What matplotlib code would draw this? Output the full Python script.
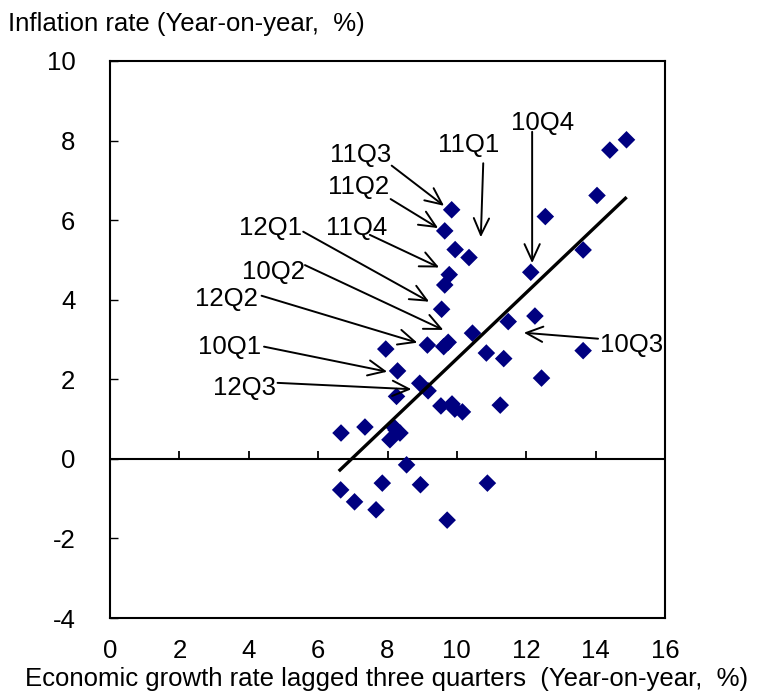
import matplotlib
matplotlib.use("Agg")
import matplotlib.pyplot as plt
import numpy as np

plt.rcParams['font.family'] = ['Liberation Sans', 'DejaVu Sans']
plt.rcParams['axes.unicode_minus'] = False

# Data: (growth lagged three quarters, inflation)
growth = [14.89, 14.41, 14.04, 12.55, 9.85, 9.65, 9.95, 10.35, 13.64, 12.13,
          9.78, 9.65, 9.56, 11.48, 12.25, 10.45, 9.15, 9.62, 9.75, 7.95,
          10.85, 11.35, 13.64, 8.29, 12.44, 8.93, 9.17, 8.26, 9.54, 9.86,
          9.94, 10.16, 11.25, 6.66, 7.35, 8.17, 8.36, 8.07, 8.25, 8.55,
          6.65, 7.85, 8.95, 10.88, 7.05, 7.67, 9.72]
inflation = [8.02, 7.76, 6.62, 6.09, 6.26, 5.73, 5.26, 5.06, 5.25, 4.69,
             4.63, 4.37, 3.76, 3.45, 3.59, 3.16, 2.86, 2.82, 2.93, 2.76,
             2.66, 2.52, 2.72, 2.21, 2.03, 1.90, 1.71, 1.57, 1.33, 1.38,
             1.25, 1.18, 1.35, 0.65, 0.80, 0.81, 0.65, 0.48, 0.72, -0.15,
             -0.78, -0.61, -0.65, -0.61, -1.08, -1.28, -1.54]

# Trend line end points
trend_x = [6.63, 14.86]
trend_y = [-0.28, 6.55]

# Annotations: label, text position, arrow start, arrow tip
labels = ['11Q3', '11Q2', '11Q1', '10Q4', '11Q4', '12Q1', '10Q2', '12Q2', '10Q1', '12Q3', '10Q3']
label_pos = [(7.22, 7.64), (7.16, 6.83), (10.34, 7.90), (12.48, 8.45), (7.12, 5.80),
             (4.64, 5.80), (4.71, 4.70), (3.36, 4.02), (3.44, 2.82), (3.89, 1.79), (15.05, 2.86)]
arrow_start = [(8.12, 7.37), (8.09, 6.53), (10.76, 7.43), (12.17, 8.22), (7.49, 5.63),
               (5.57, 5.71), (5.62, 4.87), (4.37, 4.10), (4.44, 2.82), (4.83, 1.91), (14.07, 3.02)]
arrow_tip = [(9.63, 6.36), (9.46, 5.80), (10.69, 5.57), (12.17, 4.92), (9.49, 4.81),
             (9.20, 3.95), (9.61, 3.24), (8.86, 2.92), (7.99, 2.19), (8.69, 1.75), (11.93, 3.17)]

xticks = [0, 2, 4, 6, 8, 10, 12, 14, 16]
yticks = [-4, -2, 0, 2, 4, 6, 8, 10]

FS = 18.5

fig = plt.figure(figsize=(7.57, 6.92), dpi=100)
ax = fig.add_axes([110/757, 1-618/692, (665-110)/757, (618-61)/692])
ax.set_xlim(0, 16)
ax.set_ylim(-4, 10)

ax.axhline(0, color='black', lw=1.5, zorder=2)
ax.scatter(growth, inflation, marker='D', s=80, color='#000080', edgecolors='none', zorder=3)
ax.plot(trend_x, trend_y, color='black', lw=2.4, zorder=4)

for lab, tp, st, tip in zip(labels, label_pos, arrow_start, arrow_tip):
    ax.text(tp[0], tp[1], lab, fontsize=FS, ha='center', va='center', zorder=5)
    ax.annotate('', xy=tip, xytext=st,
                arrowprops=dict(arrowstyle='->,head_length=1.2,head_width=0.55',
                                color='black', lw=1.4, shrinkA=0, shrinkB=0), zorder=5)

for s in ax.spines.values():
    s.set_linewidth(1.5)
    s.set_color('black')

ax.set_yticks(yticks)
ax.set_xticks(xticks)
ax.tick_params(axis='y', direction='in', length=6, width=1, labelsize=FS, pad=25)
ax.tick_params(axis='x', length=0, labelsize=FS, pad=15)

sec = ax.secondary_xaxis(4/14)
sec.set_xticks(xticks)
sec.tick_params(axis='x', direction='in', length=6, width=1.3, labelbottom=False, labeltop=False)
sec.spines['bottom'].set_visible(False)
sec.spines['top'].set_visible(False)

fig.text(8/757, 1-24/692, 'Inflation rate (Year-on-year,  %)', fontsize=FS, ha='left', va='center')
fig.text(387/757, 1/692, 'Economic growth rate lagged three quarters  (Year-on-year,  %)',
         fontsize=FS, ha='center', va='bottom')

fig.savefig('out.png', dpi=100)
